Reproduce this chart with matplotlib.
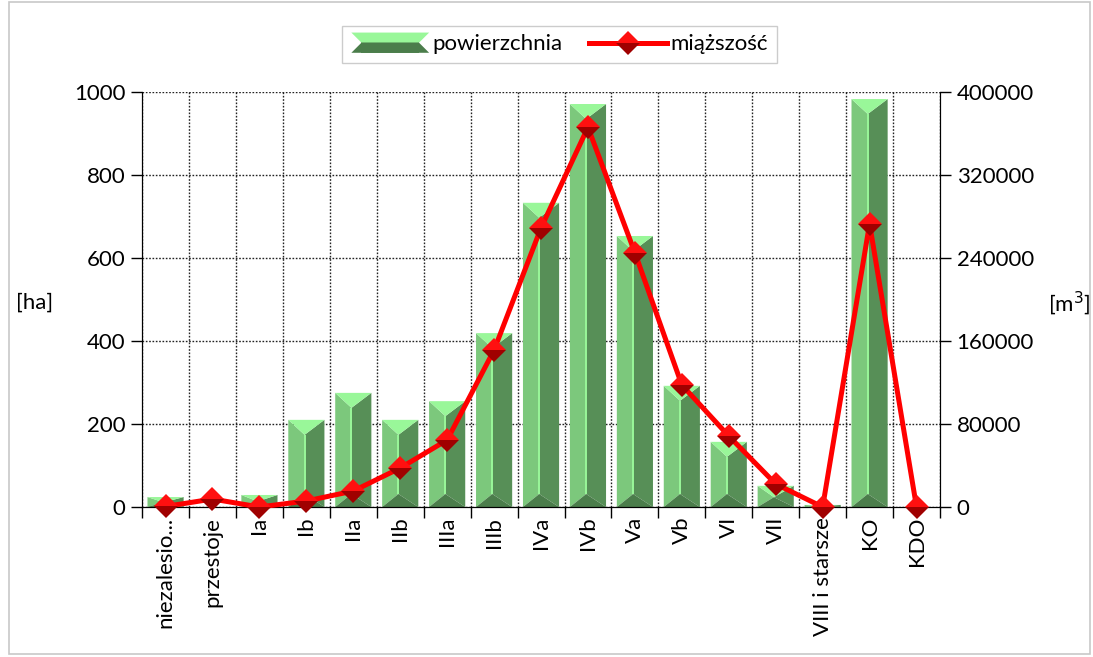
import matplotlib.pyplot as plt
import numpy as np
from matplotlib.patches import Polygon, Rectangle
from matplotlib.legend_handler import HandlerBase
from matplotlib.lines import Line2D

plt.rcParams['font.family'] = ['Lato', 'DejaVu Sans']

categories = ['niezalesio...', 'przestoje', 'Ia', 'Ib', 'IIa', 'IIb', 'IIIa', 'IIIb',
              'IVa', 'IVb', 'Va', 'Vb', 'VI', 'VII', 'VIII i starsze', 'KO', 'KDO']
powierzchnia = [24, 0, 29, 210, 275, 210, 255, 419, 733, 971, 653, 292, 157, 51, 5, 983, 0]
miazszosc = [500, 7700, 0, 5800, 15400, 37600, 64600, 151300, 269000, 366000,
             245000, 117600, 68400, 22200, 0, 273000, 0]

c_top = '#99f799'
c_left = '#7cc87c'
c_right = '#578f57'
c_bot = '#4b7d4b'
fs = 16


def bevel_bar(ax, x, h, half, top_d, bot_d):
    if h <= 0:
        return
    x0, x1 = x - half, x + half
    xr = x - half * 0.1
    if h < top_d + bot_d:
        s = h / (top_d + bot_d)
        top_d, bot_d = top_d * s, bot_d * s
    yt = h - top_d
    yb = bot_d
    ax.add_patch(Polygon([(x0, 0), (xr, yb), (xr, yt), (x0, h)], closed=True,
                         facecolor=c_left, edgecolor='none', zorder=2))
    ax.add_patch(Polygon([(x1, 0), (xr, yb), (xr, yt), (x1, h)], closed=True,
                         facecolor=c_right, edgecolor='none', zorder=2))
    ax.add_patch(Polygon([(x0, h), (x1, h), (xr, yt)], closed=True,
                         facecolor=c_top, edgecolor='none', zorder=2))
    ax.add_patch(Polygon([(x0, 0), (x1, 0), (xr, yb)], closed=True,
                         facecolor=c_bot, edgecolor='none', zorder=2))
    if yt > yb:
        ax.plot([xr, xr], [yb, yt], color=c_top, lw=1.4, zorder=2.1,
                solid_capstyle='butt')


class BevelHandler(HandlerBase):
    def create_artists(self, legend, orig_handle, xdescent, ydescent, width,
                       height, fontsize, trans):
        x0, y0 = -xdescent, -ydescent - height * 0.15
        height = height * 1.3
        x1, y1 = x0 + width, y0 + height
        ym = y0 + height * 0.5
        d = height * 0.5
        top = Polygon([(x0, y1), (x1, y1), (x1 - d, ym), (x0 + d, ym)],
                      facecolor=c_top, edgecolor='none', transform=trans)
        mid = Rectangle((x0 + d, y0), width - 2 * d, height, facecolor=c_right,
                        edgecolor='none', transform=trans)
        bot = Polygon([(x0, y0), (x1, y0), (x1 - d, ym), (x0 + d, ym)],
                      facecolor=c_bot, edgecolor='none', transform=trans)
        return [mid, top, bot]


fig = plt.figure(figsize=(10.93, 6.57), dpi=100)
ax = fig.add_axes([0.13, 0.2283, 0.73, 0.6317])
ax2 = ax.twinx()

x = np.arange(len(categories))
px_per_ha = 415 / 1000
for xi, h in zip(x, powierzchnia):
    bevel_bar(ax, xi, h, 0.385, 15 / px_per_ha, 13 / px_per_ha)

ax.set_xlim(-0.5, len(categories) - 0.5)
ax.set_ylim(0, 1000)
ax.set_yticks(np.arange(0, 1001, 200))
ax.set_xticks(np.arange(-0.5, len(categories), 1))
ax.set_xticklabels([])
ax.set_xticks(x, minor=True)
ax.set_xticklabels(categories, minor=True, rotation=90)
ax.tick_params(axis='x', which='major', direction='out', length=8, width=1)
ax.tick_params(axis='x', which='minor', length=0, labelsize=fs, pad=7)
ax.tick_params(axis='y', direction='out', length=8, width=1, labelsize=fs, pad=4)
ax.grid(True, which='major', linestyle=(0, (1.2, 1.2)), color='#222222', lw=1)
ax.set_axisbelow(True)
for s in ['top']:
    ax.spines[s].set_visible(False)
    ax2.spines[s].set_visible(False)

ax2.plot(x, miazszosc, color='#ff0000', lw=3.6, marker='D', ms=12,
         fillstyle='bottom', markerfacecolor='#a00000',
         markerfacecoloralt='#ff1010', markeredgewidth=0, zorder=5,
         clip_on=False)
ax2.set_ylim(0, 400000)
ax2.set_yticks(np.arange(0, 400001, 80000))
ax2.tick_params(axis='y', direction='out', length=8, width=1, labelsize=fs, pad=4)

fig.text(0.032, 0.539, '[ha]', fontsize=fs, ha='center', va='center')
fig.text(0.978, 0.539, '[m$^3$]', fontsize=fs, ha='center', va='center')

h_bar = Rectangle((0, 0), 1, 1)
h_line = Line2D([], [], color='#ff0000', lw=3.6, marker='D', ms=12,
                fillstyle='bottom', markerfacecolor='#a00000',
                markerfacecoloralt='#ff1010', markeredgewidth=0)
leg = fig.legend([h_bar, h_line], ['powierzchnia', 'miąższość'], loc='upper center',
                 bbox_to_anchor=(0.512, 0.978), ncol=2, fontsize=fs,
                 frameon=True, fancybox=False, edgecolor='#c0c0c0',
                 handler_map={Rectangle: BevelHandler()},
                 handlelength=3.5, handletextpad=0.15, columnspacing=1.2,
                 borderpad=0.4)
leg.get_frame().set_linewidth(1)

fig.patches.append(Rectangle((0.008, 0.004), 0.989, 0.993, transform=fig.transFigure,
                             fill=False, edgecolor='#c8c8c8', lw=1.2))

fig.savefig('out.png', dpi=100)
